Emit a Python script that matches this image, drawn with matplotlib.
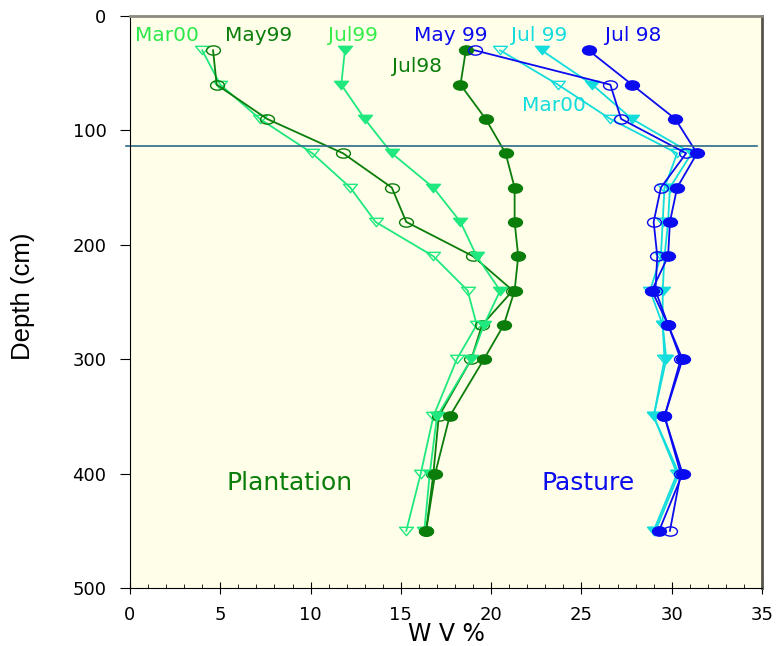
import numpy as np
import matplotlib
matplotlib.use('Agg')
import matplotlib.pyplot as plt
from matplotlib.path import Path
from matplotlib.ticker import MultipleLocator

plt.rcParams['font.family'] = ['DejaVu Sans']

# depth of each sample (cm)
depth = [30, 60, 90, 120, 150, 180, 210, 240, 270, 300, 350, 400, 450]

# Plantation
pl_mar00 = [4.0, 5.0, 7.2, 10.1, 12.2, 13.6, 16.8, 18.7, 19.2, 18.1, 16.8, 16.1, 15.3]
pl_may99 = [4.6, 4.8, 7.6, 11.8, 14.5, 15.3, 19.0, 21.2, 19.5, 18.9, 17.1, 16.8, 16.4]
pl_jul99 = [11.9, 11.7, 13.0, 14.5, 16.8, 18.3, 19.2, 20.5, 19.6, 18.9, 17.0, 16.6, 16.3]
pl_jul98 = [18.6, 18.3, 19.7, 20.8, 21.3, 21.3, 21.5, 21.3, 20.7, 19.6, 17.7, 16.9, 16.4]

# Pasture
pa_may99 = [19.1, 26.6, 27.2, 30.8, 29.4, 29.0, 29.2, 29.1, 29.8, 30.5, 29.6, 30.5, 29.9]
pa_jul99 = [22.8, 25.6, 27.8, 31.1, 29.9, 29.8, 29.6, 29.5, 29.5, 29.7, 29.0, 30.4, 29.1]
pa_jul98 = [25.4, 27.8, 30.2, 31.4, 30.3, 29.9, 29.8, 28.9, 29.8, 30.6, 29.6, 30.6, 29.3]
pa_mar00 = [20.5, 23.7, 26.6, 30.3, 29.6, 29.5, 29.4, 28.8, 29.5, 29.6, 29.0, 30.3, 29.0]

root_line = 114

dkgreen = '#0a7d0a'
ltgreen = '#1ee87e'
blue = '#0b0bf0'
cyan = '#13dcdc'

# wide (flattened) markers like the original
uc = Path.unit_circle()
ell = Path(uc.vertices * [1.5, 1.0], uc.codes)
tri = Path([(-1.0, 0.6), (1.0, 0.6), (0.0, -0.6), (-1.0, 0.6)],
           [Path.MOVETO, Path.LINETO, Path.LINETO, Path.CLOSEPOLY])

fig = plt.figure(figsize=(7.77, 6.46), dpi=100)
ax = fig.add_axes([0.1673, 0.0898, 0.8134, 0.8854])
ax.set_facecolor('#fffee9')

ms = 10
lw = 1.3
# plantation
ax.plot(pl_mar00, depth, '-', marker=tri, color=ltgreen, mfc='none', mec=ltgreen, ms=ms, lw=lw)
ax.plot(pl_may99, depth, '-', marker=ell, color=dkgreen, mfc='none', mec=dkgreen, ms=ms, lw=lw)
ax.plot(pl_jul99, depth, '-', marker=tri, color=ltgreen, ms=ms, lw=lw)
ax.plot(pl_jul98, depth, '-', marker=ell, color=dkgreen, ms=ms, lw=lw)
# pasture
ax.plot(pa_mar00, depth, '-', marker=tri, color=cyan, mfc='none', mec=cyan, ms=ms, lw=lw)
ax.plot(pa_jul99, depth, '-', marker=tri, color=cyan, ms=ms, lw=lw)
ax.plot(pa_jul98, depth, '-', marker=ell, color=blue, ms=ms, lw=lw)
ax.plot(pa_may99, depth, '-', marker=ell, color=blue, mfc='none', mec=blue, ms=ms, lw=lw)

ax.plot([-0.2, 34.7], [root_line, root_line], color='#2b6a8a', lw=1.2, clip_on=False)

ax.set_xlim(0, 35)
ax.set_ylim(500, 0)
ax.xaxis.set_major_locator(MultipleLocator(5))
ax.xaxis.set_minor_locator(MultipleLocator(1))
ax.yaxis.set_major_locator(MultipleLocator(100))
ax.tick_params(axis='both', labelsize=13, width=0.8)
ax.tick_params(axis='y', length=7, pad=10)
ax.tick_params(axis='x', which='major', direction='inout', length=8, pad=9)
ax.tick_params(axis='x', which='minor', direction='in', length=3)

for s in ['top', 'right']:
    ax.spines[s].set_color('#8a8a80')
    ax.spines[s].set_linewidth(2)
ax.spines['right'].set_color('#55554c')

ax.set_xlabel('W V %', fontsize=17)
ax.xaxis.set_label_coords(0.5, -0.06)
ax.set_ylabel('Depth (cm)', fontsize=18.5, family=['Liberation Sans'])
ax.yaxis.set_label_coords(-0.15, 0.51)

fs = 14.5
ax.text(0.28, 16.6, 'Mar00', color='#2be84a', fontsize=fs, va='center')
ax.text(5.25, 16.6, 'May99', color=dkgreen, fontsize=fs, va='center')
ax.text(10.95, 16.6, 'Jul99', color='#33ee4a', fontsize=fs, va='center')
ax.text(14.5, 43.7, 'Jul98', color=dkgreen, fontsize=fs, va='center')
ax.text(15.75, 16.6, 'May 99', color=blue, fontsize=fs, va='center')
ax.text(21.1, 16.6, 'Jul 99', color=cyan, fontsize=fs, va='center')
ax.text(26.3, 16.6, 'Jul 98', color=blue, fontsize=fs, va='center')
ax.text(21.7, 77.8, 'Mar00', color=cyan, fontsize=fs, va='center')
ax.text(5.36, 408, 'Plantation', color=dkgreen, fontsize=18, va='center')
ax.text(22.8, 408, 'Pasture', color=blue, fontsize=18, va='center')

fig.savefig('out.png', dpi=100)
